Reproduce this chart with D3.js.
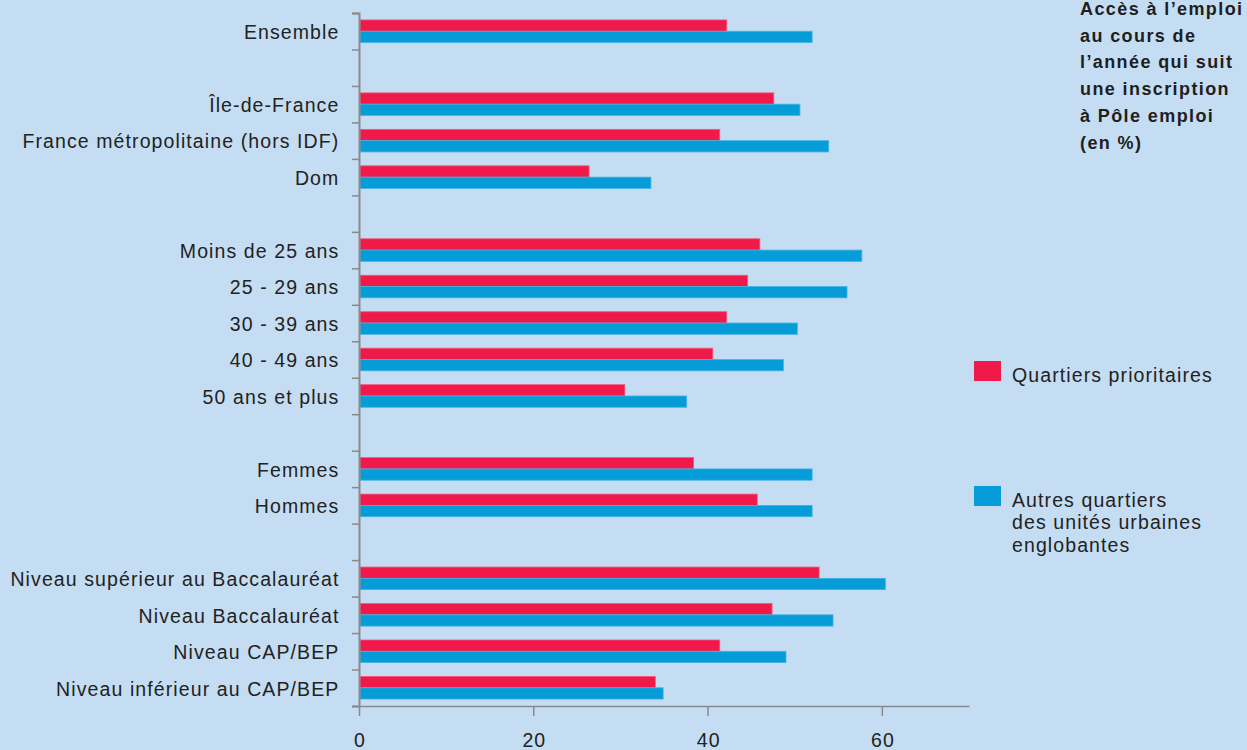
<!DOCTYPE html>
<html lang="fr">
<head>
<meta charset="utf-8">
<script src="https://cdn.jsdelivr.net/npm/d3@7/dist/d3.min.js"></script>
<style>
  html, body { margin: 0; padding: 0; background: #c5ddf2; }
  svg { display: block; font-family: "Liberation Sans", Arial, sans-serif; }
  .lbl { font-size: 19.5px; letter-spacing: 1.1px; fill: #222; }
  .title { font-size: 18px; font-weight: bold; letter-spacing: 1.4px; fill: #1e1e1e; }
</style>
</head>
<body>
<svg id="chart" width="1247" height="750"></svg>
<script>
// Rows of the chart; null marks an empty spacer row between groups
const categories = [
  "Ensemble", null,
  "Île-de-France", "France métropolitaine (hors IDF)", "Dom", null,
  "Moins de 25 ans", "25 - 29 ans", "30 - 39 ans", "40 - 49 ans", "50 ans et plus", null,
  "Femmes", "Hommes", null,
  "Niveau supérieur au Baccalauréat", "Niveau Baccalauréat", "Niveau CAP/BEP", "Niveau inférieur au CAP/BEP"
];

// Access to employment within a year (%)
const quartiersPrioritaires = [
  42.2, null,
  47.6, 41.4, 26.4, null,
  46.0, 44.6, 42.2, 40.6, 30.5, null,
  38.4, 45.7, null,
  52.8, 47.4, 41.4, 34.0
];
const autresQuartiers = [
  52.0, null,
  50.6, 53.9, 33.5, null,
  57.7, 56.0, 50.3, 48.7, 37.6, null,
  52.0, 52.0, null,
  60.4, 54.4, 49.0, 34.9
];

const xTicks = [0, 20, 40, 60];
const titleLines = ["Accès à l’emploi", "au cours de", "l’année qui suit", "une inscription", "à Pôle emploi", "(en %)"];
const seriesNames = ["Quartiers prioritaires", "Autres quartiers\ndes unités urbaines\nenglobantes"];
const seriesColors = ["#ef194a", "#069cd8"];
const seriesStrokes = ["#f2577d", "#45b3e4"];

const svg = d3.select("#chart");
const W = 1247, H = 750;
svg.append("rect").attr("width", W).attr("height", H).attr("fill", "#c5ddf2");

const plotLeft = 359, plotRight = 969, plotTop = 13, plotBottom = 706;
const rowKeys = categories.map((c, i) => "r" + i);

const x = d3.scaleLinear().domain([0, 70]).range([plotLeft, plotRight]);
const y = d3.scaleBand().domain(rowKeys).range([plotTop, plotBottom]).padding(0);
const inner = d3.scaleBand().domain([0, 1]).range([0, y.bandwidth()]).paddingInner(0).paddingOuter(0.615);
const rowEdge = d3.scaleLinear().domain([0, categories.length]).range([plotTop, plotBottom]);

const g = svg.append("g");

// Bars
const series = [quartiersPrioritaires, autresQuartiers];
series.forEach((vals, s) => {
  g.append("g").selectAll("rect")
    .data(vals.map((v, i) => ({ v, key: rowKeys[i] })).filter(d => d.v != null))
    .join("rect")
    .attr("x", x(0) + 1)
    .attr("y", d => y(d.key) + inner(s))
    .attr("width", d => x(d.v) - x(0) - 1)
    .attr("height", inner.bandwidth())
    .attr("fill", seriesColors[s])
    .attr("stroke", seriesStrokes[s])
    .attr("stroke-width", 0.8);
});

// Y axis: boundary ticks between rows
const yEdges = svg.append("g")
  .attr("transform", `translate(${plotLeft},0)`)
  .call(d3.axisLeft(rowEdge).tickValues(d3.range(categories.length + 1)).tickSize(7).tickFormat(""));
yEdges.select(".domain").attr("stroke", "#8a8a8a").attr("stroke-width", 2);
yEdges.selectAll(".tick line").attr("stroke", "#8a8a8a").attr("stroke-width", 1.5);

// Y axis: row labels
const yLabels = svg.append("g")
  .attr("transform", `translate(${plotLeft},1.5)`)
  .call(d3.axisLeft(y).tickSize(0).tickPadding(19.6)
    .tickFormat(k => categories[rowKeys.indexOf(k)] || ""));
yLabels.select(".domain").remove();
yLabels.selectAll("text").attr("class", "lbl");
yLabels.attr("font-size", null).attr("font-family", null);

// X axis
const xAxis = svg.append("g")
  .attr("transform", `translate(0,${plotBottom})`)
  .call(d3.axisBottom(x).tickValues(xTicks).tickSize(10).tickSizeOuter(0).tickPadding(17));
xAxis.attr("font-size", null).attr("font-family", null);
xAxis.select(".domain").attr("stroke", "#8a8a8a").attr("stroke-width", 1.5);
xAxis.selectAll(".tick line").attr("stroke", "#8a8a8a").attr("stroke-width", 1.5);
xAxis.selectAll("text").attr("class", "lbl").attr("dx", "0.55px");

// Title
const title = svg.append("text").attr("class", "title").attr("x", 1080).attr("y", 15);
titleLines.forEach((t, i) => {
  title.append("tspan").attr("x", 1080).attr("y", 15 + i * 26.7).text(t);
});

// Legend
const legendY = [361, 486];
seriesNames.forEach((name, s) => {
  svg.append("rect")
    .attr("x", 974).attr("y", legendY[s])
    .attr("width", 27).attr("height", 20)
    .attr("fill", seriesColors[s]);
  const t = svg.append("text").attr("class", "lbl");
  name.split("\n").forEach((line, j) => {
    t.append("tspan").attr("x", 1012).attr("y", legendY[s] + 20.5 + j * 22.5).text(line);
  });
});
</script>
</body>
</html>
